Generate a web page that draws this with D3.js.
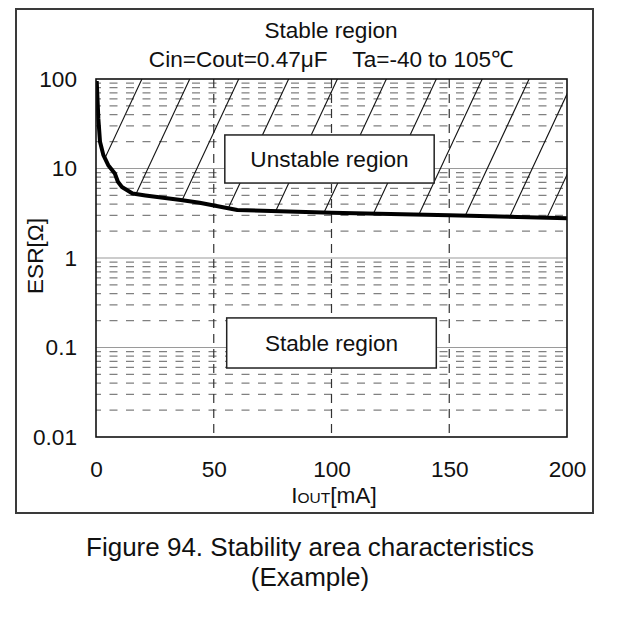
<!DOCTYPE html>
<html><head><meta charset="utf-8">
<script src="https://cdn.jsdelivr.net/npm/d3@7"></script>
<style>body{margin:0;background:#fff}svg{display:block}</style>
</head><body>
<svg id="chart" width="620" height="620"></svg>
<script>
// ---- data ----
const curveIout = [0.3, 1.0, 1.7, 2.4, 3.1, 5.2, 8.0, 9.3, 11, 15.5, 21, 36, 44, 60, 100, 150, 200];
const curveEsr  = [95, 36, 19.9, 16.8, 14.2, 10.9, 8.8, 7.1, 6.2, 5.25, 5.0, 4.45, 4.15, 3.44, 3.2, 3.0, 2.78];
const xTicks = [0, 50, 100, 150, 200];
const xGrid = [50, 100, 150];
const yTicks = [0.01, 0.1, 1, 10, 100];
const yTickLabels = ["0.01", "0.1", "1", "10", "100"];
const decades = [0.01, 0.1, 1, 10];
const minorMult = [2, 3, 4, 5, 6, 7, 8, 9];
const hatchTopIout = [19.5, 39.8, 60.6, 81.8, 102.5, 123.3, 144.5, 164, 183.9, 203, 219];
const hatchRunIout = 71; // horizontal run (mA) from ESR=100 down to ESR=0.01
const titleLines = ["Stable region", "Cin=Cout=0.47μF    Ta=-40 to 105℃"];
const unstableBox = {x0: 54.7, x1: 143.6, y0: 23.7, y1: 6.88, label: "Unstable region"};
const stableBox = {x0: 55.5, x1: 144.5, y0: 0.214, y1: 0.059, label: "Stable region"};
const captionLines = ["Figure 94. Stability area characteristics", "(Example)"];

const FONT = "'Liberation Sans', Arial, Helvetica, sans-serif";
const FS = 22.6;
const svg = d3.select("#chart");
const L = 96, R = 567, T = 79, B = 437;
const x = d3.scaleLinear().domain([0, 200]).range([L, R]);
const y = d3.scaleLog().domain([0.01, 100]).range([B, T]);

// outer frame
svg.append("rect").attr("x", 16).attr("y", 9).attr("width", 577).attr("height", 504)
  .attr("fill", "#fff").attr("stroke", "#3a3a3a").attr("stroke-width", 2);

svg.append("defs").append("clipPath").attr("id", "plotClip")
  .append("rect").attr("x", L).attr("y", T).attr("width", R - L).attr("height", B - T);

const area = d3.area().x((d, i) => x(curveIout[i])).y0(y(100)).y1((d, i) => y(curveEsr[i]));
svg.select("defs").append("clipPath").attr("id", "unstableClip")
  .append("path").attr("d", area(curveIout));

const g = svg.append("g").attr("clip-path", "url(#plotClip)");

// minor dashed grid
const minor = [];
decades.forEach(d => minorMult.forEach(m => minor.push(d * m)));
g.selectAll("line.minor").data(minor).join("line").attr("class", "minor")
  .attr("x1", L).attr("x2", R).attr("y1", d => y(d)).attr("y2", d => y(d))
  .attr("stroke", "#808080").attr("stroke-width", 1.3)
  .attr("stroke-dasharray", "8,8.5").attr("stroke-dashoffset", 3);

// decade solid lines
g.selectAll("line.major").data(yTicks.slice(1, 4)).join("line").attr("class", "major")
  .attr("x1", L).attr("x2", R).attr("y1", d => y(d)).attr("y2", d => y(d))
  .attr("stroke", "#9a9a9a").attr("stroke-width", 1.2);

// vertical dashed
g.selectAll("line.vg").data(xGrid).join("line").attr("class", "vg")
  .attr("x1", d => x(d)).attr("x2", d => x(d)).attr("y1", T).attr("y2", B)
  .attr("stroke", "#333").attr("stroke-width", 1.2).attr("stroke-dasharray", "9,6");

// hatch in unstable region
g.append("g").attr("clip-path", "url(#unstableClip)")
  .selectAll("line").data(hatchTopIout).join("line")
  .attr("x1", d => x(d)).attr("y1", y(100))
  .attr("x2", d => x(d - hatchRunIout)).attr("y2", y(0.01))
  .attr("stroke", "#111").attr("stroke-width", 1.1);

// annotation boxes
[unstableBox, stableBox].forEach(b => {
  svg.append("rect").attr("x", x(b.x0)).attr("y", y(b.y0))
    .attr("width", x(b.x1) - x(b.x0)).attr("height", y(b.y1) - y(b.y0))
    .attr("fill", "#fff").attr("stroke", "#222").attr("stroke-width", 1.5);
  svg.append("text").attr("x", (x(b.x0) + x(b.x1)) / 2).attr("y", (y(b.y0) + y(b.y1)) / 2)
    .attr("dy", "0.36em").attr("text-anchor", "middle")
    .attr("font-family", FONT).attr("font-size", FS).attr("fill", "#111").text(b.label);
});

// curve
g.append("path").datum(curveIout)
  .attr("d", d3.line().x((d, i) => x(d)).y((d, i) => y(curveEsr[i]))(curveIout))
  .attr("fill", "none").attr("stroke", "#000").attr("stroke-width", 4)
  .attr("stroke-linejoin", "round");

// plot border
svg.append("rect").attr("x", L).attr("y", T).attr("width", R - L).attr("height", B - T)
  .attr("fill", "none").attr("stroke", "#111").attr("stroke-width", 1.6);

// axes
const ya = svg.append("g").attr("transform", `translate(${L},0)`)
  .call(d3.axisLeft(y).tickValues(yTicks).tickFormat((d, i) => yTickLabels[i]).tickSize(0).tickPadding(19));
const xa = svg.append("g").attr("transform", `translate(0,${B})`)
  .call(d3.axisBottom(x).tickValues(xTicks).tickFormat(d3.format("d")).tickSize(0).tickPadding(24));
[ya, xa].forEach(a => {
  a.select(".domain").remove();
  a.selectAll("text").attr("font-family", FONT).attr("font-size", FS).attr("fill", "#111");
});

// axis titles
svg.append("text").attr("transform", "translate(43,256) rotate(-90)")
  .attr("text-anchor", "middle").attr("font-family", FONT).attr("font-size", FS).attr("fill", "#111")
  .text("ESR[Ω]");
const xt = svg.append("text").attr("x", 334).attr("y", 503).attr("text-anchor", "middle")
  .attr("font-family", FONT).attr("font-size", FS).attr("fill", "#111");
xt.append("tspan").text("I");
xt.append("tspan").attr("font-size", 15.5).text("OUT");
xt.append("tspan").text("[mA]");

// title
titleLines.forEach((t, i) => {
  svg.append("text").attr("x", 331).attr("y", 38 + i * 29).attr("text-anchor", "middle")
    .attr("font-family", FONT).attr("font-size", FS).attr("fill", "#111")
    .style("white-space", "pre").text(t);
});

// caption
captionLines.forEach((t, i) => {
  svg.append("text").attr("x", 310).attr("y", 556 + i * 30).attr("text-anchor", "middle")
    .attr("font-family", FONT).attr("font-size", 26).attr("fill", "#111").text(t);
});
</script>
</body></html>
